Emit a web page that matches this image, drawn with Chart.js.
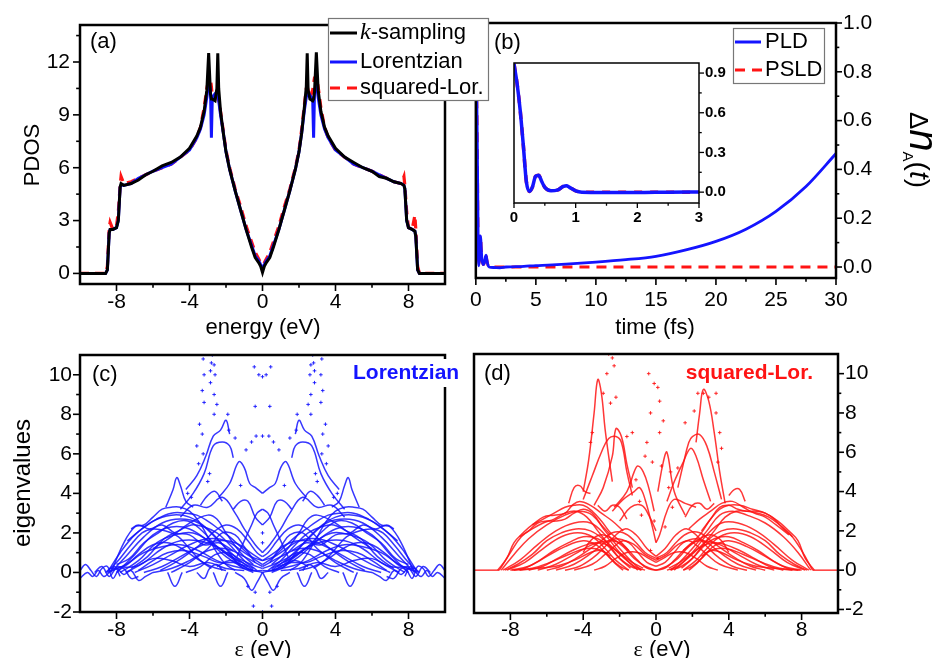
<!DOCTYPE html>
<html>
<head>
<meta charset="utf-8">
<script src="https://cdn.jsdelivr.net/npm/chart.js@4.4.1/dist/chart.umd.min.js"></script>
<style>
html, body { margin: 0; padding: 0; background: #fff; }
#wrap { position: relative; width: 935px; height: 658px; overflow: hidden; background: #fff; }
.panel { position: absolute; }
</style>
</head>
<body>
<div id="wrap">
  <div class="panel" style="left:460px;top:0;z-index:1"><canvas id="chartB" width="475" height="345"></canvas></div>
  <div class="panel" style="left:500px;top:48px;z-index:2"><canvas id="chartInset" width="240" height="185"></canvas></div>
  <div class="panel" style="left:0;top:0;z-index:3"><canvas id="chartA" width="500" height="345"></canvas></div>
  <div class="panel" style="left:0;top:330px;z-index:1"><canvas id="chartC" width="470" height="328"></canvas></div>
  <div class="panel" style="left:460px;top:330px;z-index:1"><canvas id="chartD" width="475" height="328"></canvas></div>
</div>
<script>
// ---- (a) PDOS ----
const energy = [-10, -9, -8.6, -8.5, -8.4, -8.35, -8.2, -8.0, -7.9, -7.8, -7.75, -7.6, -7.2, -6.8, -6.4, -6.0, -5.5, -5.0, -4.5, -4.0,
  -3.6, -3.4, -3.2, -3.05, -2.95, -2.85, -2.8, -2.75, -2.6, -2.5, -2.45, -2.4, -2.3, -2.15, -2.0, -1.8, -1.5, -1.2, -0.9, -0.6,
  -0.4, -0.2, -0.1, 0,
  0.1, 0.2, 0.4, 0.6, 0.9, 1.2, 1.5, 1.8, 2.0, 2.15, 2.3, 2.4, 2.45, 2.5, 2.6, 2.75, 2.8, 2.85, 2.95, 3.05,
  3.2, 3.4, 3.6, 4.0, 4.5, 5.0, 5.5, 6.0, 6.4, 6.8, 7.2, 7.6, 7.75, 7.8, 7.9, 8.0, 8.2, 8.35, 8.4, 8.5, 8.6, 9, 10];
const kSampling = [0, 0, 0, 0.2, 2.3, 2.5, 2.5, 2.6, 3.0, 4.9, 5.1, 5.0, 5.1, 5.3, 5.6, 5.8, 6.1, 6.3, 6.6, 7.1,
  7.8, 8.3, 9.2, 10.4, 12.5, 10.2, 9.9, 9.9, 9.8, 10.5, 12.5, 10.5, 9.2, 8.0, 6.9, 5.9, 4.7, 3.6, 2.5, 1.5,
  0.9, 0.6, 0.4, 0.05,
  0.4, 0.6, 0.9, 1.5, 2.5, 3.6, 4.7, 5.9, 6.9, 8.0, 9.5, 10.6, 12.5, 10.4, 9.9, 9.8, 9.9, 10.3, 12.55, 10.4,
  9.2, 8.3, 7.8, 7.1, 6.6, 6.3, 6.0, 5.8, 5.5, 5.4, 5.2, 5.1, 5.0, 4.8, 3.0, 2.6, 2.5, 2.4, 2.1, 0.2, 0, 0, 0];
const lorentzian = [0, 0, 0, 0.2, 2.3, 2.5, 2.5, 2.6, 3.0, 4.9, 5.0, 5.0, 5.1, 5.4, 5.6, 5.8, 6.0, 6.2, 6.6, 7.0,
  7.7, 8.2, 9.0, 10.0, 10.8, 10.4, 7.7, 10.0, 10.2, 10.3, 10.2, 9.8, 9.0, 8.0, 6.9, 5.9, 4.7, 3.6, 2.5, 1.6,
  1.0, 0.7, 0.5, 0.3,
  0.5, 0.7, 1.0, 1.6, 2.5, 3.6, 4.7, 5.9, 6.9, 8.0, 9.3, 10.0, 10.2, 10.3, 10.1, 9.9, 7.7, 10.3, 10.8, 10.0,
  9.0, 8.2, 7.7, 7.0, 6.6, 6.2, 6.0, 5.8, 5.6, 5.4, 5.2, 5.1, 5.0, 4.8, 3.0, 2.6, 2.5, 2.4, 2.1, 0.2, 0, 0, 0];
const squaredLor = [0, 0, 0, 0.4, 2.6, 2.9, 2.5, 2.7, 3.5, 5.0, 5.5, 5.1, 5.2, 5.4, 5.6, 5.8, 6.0, 6.2, 6.6, 7.0,
  7.7, 8.3, 9.4, 10.5, 11.0, 11.0, 10.6, 10.0, 9.9, 10.4, 10.3, 9.9, 9.2, 8.1, 7.0, 6.0, 4.8, 3.8, 2.7, 1.8,
  1.2, 0.8, 0.6, 0.5,
  0.6, 0.8, 1.2, 1.8, 2.7, 3.8, 4.8, 6.0, 7.0, 8.2, 9.6, 10.5, 10.6, 10.4, 10.0, 10.4, 10.8, 11.1, 11.2, 10.6,
  9.4, 8.3, 7.7, 7.0, 6.6, 6.2, 6.0, 5.8, 5.6, 5.4, 5.2, 5.1, 5.5, 5.0, 3.5, 2.6, 2.5, 3.3, 2.5, 0.4, 0, 0, 0];

// ---- (b) population difference vs time ----
const time = [0, 0.05, 0.1, 0.15, 0.2, 0.25, 0.3, 0.35, 0.4, 0.45, 0.5, 0.6, 0.7, 0.8, 0.85, 0.9, 1.0, 1.1,
  1.5, 2, 2.5, 3, 4, 5, 6, 7.5, 10, 12.5, 15, 17.5, 20, 22.5, 25, 27.5, 30];
const pld = [0.97, 0.82, 0.62, 0.36, 0.08, 0.005, 0.04, 0.12, 0.128, 0.08, 0.036, 0.01, 0.015, 0.043, 0.049, 0.036, 0.01, 0.0,
  -0.002, -0.003, 0.0, 0.001, 0.003, 0.006, 0.008, 0.012, 0.02, 0.03, 0.044, 0.07, 0.105, 0.155, 0.228, 0.33, 0.465];
const psld = [0.97, 0.82, 0.62, 0.36, 0.08, 0.005, 0.04, 0.12, 0.128, 0.08, 0.036, 0.01, 0.015, 0.043, 0.049, 0.036, 0.01, 0,
  0, 0, 0, 0, 0, 0, 0, 0, 0, 0, 0, 0, 0, 0, 0, 0, 0];

// ---- (c) Lorentzian eigenvalue branches, [eps, value] ----
const lorArcs = [
  [[-8.3,0],[-7.6,1.5],[-7,2.3],[-6.5,2.4],[-6,2.8],[-5.5,3.2],[-5,3.3],[-4.5,3.3],[-4,3.1],[-3.5,2.6],[-3,1.8],[-2.5,1.0],[-2,0.4],[-1.5,0.1]],
  [[-8.5,0],[-7.8,1.0],[-7,1.9],[-6,2.6],[-5,2.9],[-4,2.8],[-3,2.2],[-2,1.2],[-1.2,0.3],[-0.5,0]],
  [[-8.2,0.1],[-7.5,0.8],[-6.5,1.8],[-5.5,2.5],[-4.5,2.7],[-3.5,2.5],[-2.5,1.7],[-1.5,0.8],[-0.5,0.1]],
  [[-8,0],[-7,0.9],[-6,1.9],[-5,2.3],[-4,2.2],[-3,1.6],[-2,0.8],[-1,0.2]],
  [[-7.8,0],[-6.8,0.6],[-5.8,1.5],[-4.8,1.9],[-3.8,2.0],[-2.8,1.5],[-1.8,0.8],[-0.8,0.2],[0,0]],
  [[-7.5,0],[-6.5,0.5],[-5.5,1.2],[-4.5,1.6],[-3.5,1.6],[-2.5,1.3],[-1.5,0.7],[-0.5,0.2]],
  [[-8.5,0],[-7.5,0.4],[-6.5,1.0],[-5.5,1.3],[-4.5,1.4],[-3.5,1.1],[-2.5,0.6],[-1.5,0.3],[-0.5,0.1]],
  [[-7,0],[-6,0.4],[-5,0.9],[-4,1.4],[-3,1.7],[-2,1.6],[-1,1.0],[0,0.4]],
  [[-6.5,0],[-5.5,0.3],[-4.5,0.8],[-3.5,1.3],[-2.5,1.6],[-1.5,1.5],[-0.5,0.9],[0,0.6]],
  [[-6,0],[-5,0.2],[-4,0.6],[-3,1.1],[-2,1.2],[-1,0.8],[0,0.3]],
  [[-8,0.3],[-7,0.3],[-6,0.7],[-5,0.6],[-4,0.3],[-3,0.5],[-2,0.2],[-1,0.1]],
  [[-5,0],[-4,0.5],[-3,1.2],[-2.2,2.0],[-1.5,1.9],[-1,1.3],[-0.4,0.5]],
  [[-4.5,2.8],[-3.8,3.4],[-3,3.3],[-2.2,3.8],[-1.5,3.0],[-1,2.2],[-0.4,1.4],[0,1.0]],
  [[-6,1.2],[-5,1.8],[-4,2.5],[-3,2.9],[-2.5,2.7],[-2,2.0],[-1.2,1.0],[-0.5,0.4]],
  [[-7.2,2.2],[-6.8,2.4],[-6.2,2.2],[-5.5,2.4],[-4.8,2.0],[-4,1.9],[-3.2,1.4],[-2.4,1.5],[-1.6,1.1]],
  [[-8.6,0],[-8,0.5],[-7.3,1.3],[-6.6,2.0],[-6,2.2],[-5.3,2.1],[-4.6,1.8],[-4,1.2],[-3.4,0.6],[-2.8,0.2]],
  [[-8.4,0.2],[-7.6,0.3],[-6.8,0.9],[-6,1.4],[-5.2,1.5],[-4.4,1.2],[-3.6,0.7],[-2.8,0.3],[-2,0.1]],
  [[-7.2,0.2],[-6.3,0.8],[-5.4,1.7],[-4.6,2.1],[-3.9,2.4],[-3.2,2.3],[-2.5,2.0],[-1.8,1.4],[-1,0.6],[-0.3,0.1]],
  [[-6.8,0.1],[-6,0.6],[-5.2,1.0],[-4.2,1.1],[-3.2,0.8],[-2.4,0.5],[-1.6,0.5],[-0.8,0.3]],
  [[-7.4,1.6],[-6.6,2.2],[-5.8,2.7],[-5,3.0],[-4.2,3.0],[-3.6,2.9],[-3,2.6],[-2.4,2.2],[-1.8,1.8],[-1.2,1.3],[-0.6,0.8],[0,0.6]],
  [[-5.6,0.1],[-4.8,0.5],[-4,1.0],[-3.3,1.5],[-2.6,2.1],[-2,2.4],[-1.4,2.2],[-0.8,1.6],[-0.3,1.0],[0,0.8]],
  [[-4.2,0],[-3.4,0.3],[-2.6,0.9],[-1.9,1.0],[-1.3,0.7],[-0.6,0.4],[0,0.2]],
  [[-8,0.4],[-7.3,0.7],[-6.5,1.5],[-5.7,2.0],[-4.9,2.5],[-4.1,2.6],[-3.3,2.1],[-2.6,1.4],[-1.9,0.9],[-1.2,0.5]],
  [[-9.2,0],[-8.8,0.3],[-8.4,-0.2],[-8,0.2],[-7.6,-0.1],[-7.2,0.1],[-6.8,-0.4],[-6.4,-0.2],[-6,0]],
  [[-3.6,0],[-3.2,-0.3],[-2.9,0.2],[-2.5,0.4],[-2.2,0.1]],
  [[-2.5,0.3],[-1.8,0.6],[-1.2,0.4],[-0.6,0.1],[0,0.1]],
  [[-1.4,0.8],[-1,1.6],[-0.6,2.4],[-0.3,3.0],[0,3.2]],
  [[-3.4,3.4],[-3.0,3.9],[-2.6,4.1],[-2.2,3.6]],
  [[-5.3,3.3],[-4.9,4.2],[-4.7,4.8],[-4.5,4.4],[-4.2,3.6],[-3.8,3.3]],
  [[-4.5,3.2],[-3.8,4.0],[-3.2,5.0],[-2.7,6.4],[-2.2,6.6],[-1.8,6.4],[-1.6,5.8]],
  [[-4.2,4.2],[-3.6,4.9],[-3.1,5.9],[-2.7,6.9],[-2.3,7.2],[-2.0,7.7],[-1.8,7.0]],
  [[-2.4,3.8],[-1.8,4.5],[-1.3,5.6],[-1,5.3],[-0.7,4.5],[-0.4,4.3],[0,4.0]],
  [[-1.6,3.2],[-1.2,3.6],[-0.8,3.6],[-0.4,2.8],[0,2.4]],
  [[-5.2,0],[-4.8,-0.7],[-4.4,0]],
  [[-2.7,0],[-2.3,-0.7],[-1.9,0]],
  [[-1.5,0],[-1,-0.3],[-0.6,-0.9],[-0.3,-0.5],[0,0]],
  [[-10,0.1],[-9.7,0.4],[-9.4,0.1],[-9.1,-0.2],[-8.8,0.2],[-8.5,0.3],[-8.2,-0.3],[-7.9,0.1],[-7.6,0.2],[-7.2,-0.3],[-6.8,-0.2]],
  [[-10,-0.3],[-9.6,0],[-9.3,-0.2],[-9,0.1],[-8.7,-0.2],[-8.4,0],[-8.1,0.3],[-7.8,-0.2]],
  [[8.3,0],[7.6,1.5],[7,2.3],[6.5,2.4],[6,2.8],[5.5,3.2],[5,3.3],[4.5,3.3],[4,3.1],[3.5,2.6],[3,1.8],[2.5,1.0],[2,0.4],[1.5,0.1]],
  [[8.5,0],[7.8,1.0],[7,1.9],[6,2.6],[5,2.9],[4,2.8],[3,2.2],[2,1.2],[1.2,0.3],[0.5,0]],
  [[8.2,0.1],[7.5,0.8],[6.5,1.8],[5.5,2.5],[4.5,2.7],[3.5,2.5],[2.5,1.7],[1.5,0.8],[0.5,0.1]],
  [[8,0],[7,0.9],[6,1.9],[5,2.3],[4,2.2],[3,1.6],[2,0.8],[1,0.2]],
  [[7.8,0],[6.8,0.6],[5.8,1.5],[4.8,1.9],[3.8,2.0],[2.8,1.5],[1.8,0.8],[0.8,0.2],[0,0]],
  [[7.5,0],[6.5,0.5],[5.5,1.2],[4.5,1.6],[3.5,1.6],[2.5,1.3],[1.5,0.7],[0.5,0.2]],
  [[8.5,0],[7.5,0.4],[6.5,1.0],[5.5,1.3],[4.5,1.4],[3.5,1.1],[2.5,0.6],[1.5,0.3],[0.5,0.1]],
  [[7,0],[6,0.4],[5,0.9],[4,1.4],[3,1.7],[2,1.6],[1,1.0],[0,0.4]],
  [[6.5,0],[5.5,0.3],[4.5,0.8],[3.5,1.3],[2.5,1.6],[1.5,1.5],[0.5,0.9],[0,0.6]],
  [[6,0],[5,0.2],[4,0.6],[3,1.1],[2,1.2],[1,0.8],[0,0.3]],
  [[8,0.3],[7,0.3],[6,0.7],[5,0.6],[4,0.3],[3,0.5],[2,0.2],[1,0.1]],
  [[5,0],[4,0.5],[3,1.2],[2.2,2.0],[1.5,1.9],[1,1.3],[0.4,0.5]],
  [[4.5,2.8],[3.8,3.4],[3,3.3],[2.2,3.8],[1.5,3.0],[1,2.2],[0.4,1.4],[0,1.0]],
  [[6,1.2],[5,1.8],[4,2.5],[3,2.9],[2.5,2.7],[2,2.0],[1.2,1.0],[0.5,0.4]],
  [[7.2,2.2],[6.8,2.4],[6.2,2.2],[5.5,2.4],[4.8,2.0],[4,1.9],[3.2,1.4],[2.4,1.5],[1.6,1.1]],
  [[8.6,0],[8,0.5],[7.3,1.3],[6.6,2.0],[6,2.2],[5.3,2.1],[4.6,1.8],[4,1.2],[3.4,0.6],[2.8,0.2]],
  [[8.4,0.2],[7.6,0.3],[6.8,0.9],[6,1.4],[5.2,1.5],[4.4,1.2],[3.6,0.7],[2.8,0.3],[2,0.1]],
  [[7.2,0.2],[6.3,0.8],[5.4,1.7],[4.6,2.1],[3.9,2.4],[3.2,2.3],[2.5,2.0],[1.8,1.4],[1,0.6],[0.3,0.1]],
  [[6.8,0.1],[6,0.6],[5.2,1.0],[4.2,1.1],[3.2,0.8],[2.4,0.5],[1.6,0.5],[0.8,0.3]],
  [[7.4,1.6],[6.6,2.2],[5.8,2.7],[5,3.0],[4.2,3.0],[3.6,2.9],[3,2.6],[2.4,2.2],[1.8,1.8],[1.2,1.3],[0.6,0.8],[0,0.6]],
  [[5.6,0.1],[4.8,0.5],[4,1.0],[3.3,1.5],[2.6,2.1],[2,2.4],[1.4,2.2],[0.8,1.6],[0.3,1.0],[0,0.8]],
  [[4.2,0],[3.4,0.3],[2.6,0.9],[1.9,1.0],[1.3,0.7],[0.6,0.4],[0,0.2]],
  [[8,0.4],[7.3,0.7],[6.5,1.5],[5.7,2.0],[4.9,2.5],[4.1,2.6],[3.3,2.1],[2.6,1.4],[1.9,0.9],[1.2,0.5]],
  [[9.2,0],[8.8,0.3],[8.4,-0.2],[8,0.2],[7.6,-0.1],[7.2,0.1],[6.8,-0.4],[6.4,-0.2],[6,0]],
  [[3.6,0],[3.2,-0.3],[2.9,0.2],[2.5,0.4],[2.2,0.1]],
  [[2.5,0.3],[1.8,0.6],[1.2,0.4],[0.6,0.1],[0,0.1]],
  [[1.4,0.8],[1,1.6],[0.6,2.4],[0.3,3.0],[0,3.2]],
  [[3.4,3.4],[3.0,3.9],[2.6,4.1],[2.2,3.6]],
  [[5.3,3.3],[4.9,4.2],[4.7,4.8],[4.5,4.4],[4.2,3.6],[3.8,3.3]],
  [[4.5,3.2],[3.8,4.0],[3.2,5.0],[2.7,6.4],[2.2,6.6],[1.8,6.4],[1.6,5.8]],
  [[4.2,4.2],[3.6,4.9],[3.1,5.9],[2.7,6.9],[2.3,7.2],[2.0,7.7],[1.8,7.0]],
  [[2.4,3.8],[1.8,4.5],[1.3,5.6],[1,5.3],[0.7,4.5],[0.4,4.3],[0,4.0]],
  [[1.6,3.2],[1.2,3.6],[0.8,3.6],[0.4,2.8],[0,2.4]],
  [[5.2,0],[4.8,-0.7],[4.4,0]],
  [[2.7,0],[2.3,-0.7],[1.9,0]],
  [[1.5,0],[1,-0.3],[0.6,-0.9],[0.3,-0.5],[0,0]],
  [[10,0.1],[9.7,0.4],[9.4,0.1],[9.1,-0.2],[8.8,0.2],[8.5,0.3],[8.2,-0.3],[7.9,0.1],[7.6,0.2],[7.2,-0.3],[6.8,-0.2]],
  [[10,-0.3],[9.6,0],[9.3,-0.2],[9,0.1],[8.7,-0.2],[8.4,0],[8.1,0.3],[7.8,-0.2]]
];
const lorDots = [
  [-3.25,6.0],[-3.3,7.0],[-3.2,8.6],[-3.3,9.2],[-3.2,10.0],[-3.25,10.8],[-2.85,9.6],[-2.85,10.2],[-2.8,10.6],[-2.75,11.0],
  [-2.65,9.0],[-2.65,8.0],[-2.6,10.0],[-2.65,10.5],[-2.5,8.5],[-3.5,5.5],[-3.6,6.4],[-3.45,7.5],[-1.9,8.0],[-1.85,7.2],
  [-1.5,6.8],[-3.0,4.6],[-2.9,5.0],[-4.1,4.0],[-3.9,3.8],[-1.2,4.4],[-0.9,6.2],[-0.6,6.6],[-0.4,8.4],[-0.45,10.4],
  [-0.35,6.9],[-0.2,10.0],[-0.5,-1.7],[-0.4,-1.0],[-0.8,-0.7],[0,-2.0],[0,9.9],[0,6.9],[0,2.0],[0,1.5],
  [3.25,6.0],[3.3,7.0],[3.2,8.6],[3.3,9.2],[3.2,10.0],[3.25,10.8],[2.85,9.6],[2.85,10.2],[2.8,10.6],[2.75,11.0],
  [2.65,9.0],[2.65,8.0],[2.6,10.0],[2.65,10.5],[2.5,8.5],[3.5,5.5],[3.6,6.4],[3.45,7.5],[1.9,8.0],[1.85,7.2],
  [1.5,6.8],[3.0,4.6],[2.9,5.0],[4.1,4.0],[3.9,3.8],[1.2,4.4],[0.9,6.2],[0.6,6.6],[0.4,8.4],[0.45,10.4],
  [0.35,6.9],[0.2,10.0],[0.5,-1.7],[0.4,-1.0],[0.8,-0.7]
];

// ---- (d) squared-Lorentzian eigenvalue branches ----
const sqArcs = [
  [[-10,0],[-8.6,0]],
  [[8.6,0],[10,0]],
  [[-8.7,0],[-8.2,0.6],[-7.8,1.4],[-7.3,1.9],[-6.8,2.3],[-6.2,2.6],[-5.6,2.9],[-5,3.2],[-4.5,3.3],[-4,3.3],[-3.5,3.0],[-3,2.5],[-2.5,1.9],[-2,1.5],[-1.5,1.0]],
  [[-8.5,0],[-7.8,0.8],[-7,1.6],[-6,2.3],[-5,2.8],[-4.2,3.0],[-3.5,2.8],[-2.8,2.0],[-2,1.1],[-1.3,0.4],[-0.8,0]],
  [[-8.4,0],[-7.5,0.5],[-6.5,1.3],[-5.5,2.0],[-4.5,2.4],[-3.6,2.4],[-2.8,1.8],[-2,0.9],[-1.2,0.2],[-0.6,0]],
  [[-8.2,0],[-7.2,0.4],[-6.2,1.1],[-5.2,1.7],[-4.3,1.9],[-3.5,1.7],[-2.8,1.1],[-2.2,0.5],[-1.5,0]],
  [[-8,0],[-7,0.2],[-6,0.7],[-5,1.2],[-4,1.5],[-3.3,1.3],[-2.7,0.8],[-2.2,0.3],[-1.8,0]],
  [[-7.8,0],[-6.8,0.1],[-5.8,0.4],[-4.8,0.8],[-3.8,1.1],[-3.0,1.0],[-2.5,0.6],[-2,0.2],[-1.5,0]],
  [[-7.5,0],[-6.5,0.1],[-5.5,0.2],[-4.5,0.5],[-3.6,0.9],[-3,1.0],[-2.5,0.7]],
  [[-6.5,0],[-5.5,0.3],[-4.5,0.8],[-3.5,1.3],[-2.5,1.5],[-2,1.4],[-1.5,1.0],[-1,0.5],[-0.5,0.1],[0,0]],
  [[-5.5,0],[-4.5,0.3],[-3.5,0.9],[-2.8,1.4],[-2.2,1.6],[-1.5,1.4],[-1,0.9],[-0.5,0.4],[0,0.2]],
  [[-4.5,0],[-3.5,0.3],[-2.8,0.8],[-2.3,1.2],[-1.8,1.5],[-1.2,1.3],[-0.6,0.8],[0,0.5]],
  [[-4,0.9],[-3.6,1.5],[-3,1.8],[-2.4,1.6],[-1.8,1.2],[-1.2,0.6],[-0.6,0.2],[0,0]],
  [[-7.5,1.7],[-7,2.0],[-6.5,2.4],[-6,2.5],[-5.5,2.5],[-5,2.6],[-4.5,2.9],[-4,3.1],[-3.5,2.9],[-3,2.3],[-2.5,1.8]],
  [[-8.6,0],[-8,0.9],[-7.4,1.7],[-6.8,2.1],[-6.2,2.4],[-5.6,2.6],[-5,2.9],[-4.4,3.0],[-3.8,2.7],[-3.2,2.0],[-2.6,1.3],[-2,0.6],[-1.4,0.1]],
  [[-8.3,0],[-7.6,0.3],[-6.8,0.8],[-6,1.5],[-5.2,1.9],[-4.4,2.1],[-3.6,2.0],[-2.8,1.5],[-2.1,0.9],[-1.5,0.4],[-1,0]],
  [[-7.9,0],[-7.2,0.1],[-6.4,0.5],[-5.6,1.0],[-4.8,1.4],[-4,1.7],[-3.2,1.6],[-2.6,1.2],[-2,0.6],[-1.4,0.2],[-0.8,0]],
  [[-7,0],[-6.2,0.2],[-5.4,0.6],[-4.6,1.0],[-3.8,1.3],[-3.1,1.4],[-2.5,1.2],[-1.9,0.8],[-1.3,0.4],[-0.7,0.1]],
  [[-6,0],[-5.2,0.2],[-4.4,0.6],[-3.6,1.1],[-3.0,1.5],[-2.4,1.9],[-1.8,1.9],[-1.2,1.5],[-0.6,0.9],[0,0.6]],
  [[-5,0],[-4.2,0.2],[-3.5,0.6],[-2.9,1.1],[-2.3,1.7],[-1.7,2.1],[-1.1,1.8],[-0.5,1.1],[0,0.7]],
  [[-3.4,0],[-2.8,0.2],[-2.2,0.6],[-1.6,0.9],[-1,0.9],[-0.4,0.6],[0,0.4]],
  [[-6.8,2.3],[-6.2,2.7],[-5.6,2.8],[-5,2.9],[-4.6,3.3],[-4.2,3.5],[-3.6,3.3],[-3,2.9],[-2.4,2.5],[-1.8,2.0]],
  [[-3.2,3.3],[-2.8,3.0],[-2.4,3.3],[-2.0,3.2],[-1.6,2.6]],
  [[-4.8,3.4],[-4.5,4.2],[-4.2,4.3],[-3.9,4.0],[-3.6,3.9]],
  [[-4.0,4.0],[-3.7,5.6],[-3.4,8.0],[-3.2,9.7],[-3.0,9.0],[-2.8,7.2],[-2.6,5.8],[-2.4,4.5]],
  [[-4.0,3.6],[-3.5,4.8],[-3.0,6.0],[-2.6,6.7],[-2.2,6.8],[-1.9,6.5],[-1.6,5.0],[-1.3,3.8]],
  [[-3.4,3.3],[-2.9,4.2],[-2.4,5.8],[-2.2,7.2],[-1.9,6.8],[-1.6,5.4],[-1.3,4.2]],
  [[-2.3,3.2],[-1.6,4.0],[-1.2,5.0],[-1.0,5.3],[-0.7,5.0],[-0.4,4.2],[-0.1,3.0]],
  [[-2.4,3.0],[-1.8,3.6],[-1.2,4.0],[-0.9,4.2],[-0.6,3.6],[-0.2,2.2],[0,1.4]],
  [[-2.0,2.5],[-1.4,3.2],[-0.8,3.3],[-0.4,2.8],[0,2.0]],
  [[8.7,0],[8.2,0.6],[7.8,1.5],[7.3,2.0],[6.7,2.5],[6,2.9],[5.3,3.1],[4.6,3.3],[4,3.3],[3.5,3.1],[3,2.6],[2.5,1.9],[2,1.4],[1.5,1.0]],
  [[8.5,0],[7.8,0.9],[7,1.7],[6,2.4],[5,2.8],[4.2,3.0],[3.5,2.8],[2.8,2.0],[2,1.1],[1.3,0.4],[0.8,0]],
  [[8.4,0],[7.5,0.5],[6.5,1.3],[5.5,2.0],[4.5,2.4],[3.6,2.4],[2.8,1.8],[2,0.9],[1.2,0.2],[0.6,0]],
  [[8.2,0],[7.2,0.4],[6.2,1.1],[5.2,1.7],[4.3,1.9],[3.5,1.7],[2.8,1.1],[2.2,0.5],[1.5,0]],
  [[8,0],[7,0.2],[6,0.7],[5,1.2],[4,1.5],[3.3,1.3],[2.7,0.8],[2.2,0.3],[1.8,0]],
  [[7.8,0],[6.8,0.1],[5.8,0.4],[4.8,0.8],[3.8,1.1],[3.0,1.0],[2.5,0.6],[2,0.2],[1.5,0]],
  [[7.5,0],[6.5,0.1],[5.5,0.2],[4.5,0.5],[3.6,0.9],[3,1.0],[2.5,0.7]],
  [[6.5,0],[5.5,0.3],[4.5,0.8],[3.5,1.3],[2.5,1.5],[2,1.4],[1.5,1.0],[1,0.5],[0.5,0.1],[0,0]],
  [[5.5,0],[4.5,0.3],[3.5,0.9],[2.8,1.4],[2.2,1.6],[1.5,1.4],[1,0.9],[0.5,0.4],[0,0.2]],
  [[4.5,0],[3.5,0.3],[2.8,0.8],[2.3,1.2],[1.8,1.5],[1.2,1.3],[0.6,0.8],[0,0.5]],
  [[4,0.9],[3.6,1.5],[3,1.8],[2.4,1.6],[1.8,1.2],[1.2,0.6],[0.6,0.2],[0,0]],
  [[7.5,1.7],[7,2.1],[6.5,2.6],[6,2.9],[5.5,3.0],[5,3.0],[4.5,3.1],[4,3.3],[3.5,3.2],[3,2.6],[2.5,2.0]],
  [[8.6,0],[8,1.0],[7.4,1.8],[6.8,2.3],[6.2,2.7],[5.6,2.9],[5,3.0],[4.4,3.0],[3.8,2.7],[3.2,2.0],[2.6,1.3],[2,0.6],[1.4,0.1]],
  [[8.3,0],[7.6,0.3],[6.8,0.8],[6,1.5],[5.2,1.9],[4.4,2.1],[3.6,2.0],[2.8,1.5],[2.1,0.9],[1.5,0.4],[1,0]],
  [[7.9,0],[7.2,0.1],[6.4,0.5],[5.6,1.0],[4.8,1.4],[4,1.7],[3.2,1.6],[2.6,1.2],[2,0.6],[1.4,0.2],[0.8,0]],
  [[7,0],[6.2,0.2],[5.4,0.6],[4.6,1.0],[3.8,1.3],[3.1,1.4],[2.5,1.2],[1.9,0.8],[1.3,0.4],[0.7,0.1]],
  [[6,0],[5.2,0.2],[4.4,0.6],[3.6,1.1],[3.0,1.5],[2.4,1.9],[1.8,1.9],[1.2,1.5],[0.6,0.9],[0,0.6]],
  [[5,0],[4.2,0.2],[3.5,0.6],[2.9,1.1],[2.3,1.7],[1.7,2.1],[1.1,1.8],[0.5,1.1],[0,0.7]],
  [[3.4,0],[2.8,0.2],[2.2,0.6],[1.6,0.9],[1,0.9],[0.4,0.6],[0,0.4]],
  [[7.3,1.8],[6.6,2.3],[6,2.7],[5.4,2.9],[4.8,3.2],[4.2,3.5],[3.6,3.4],[3,3.0],[2.4,2.6],[1.8,2.1]],
  [[3.2,3.4],[2.8,3.1],[2.4,3.4],[2.0,3.3],[1.6,2.7]],
  [[4.9,3.5],[4.6,4.1],[4.3,4.1],[4.0,3.8]],
  [[3.8,3.4],[3.5,5.0],[3.2,7.0],[2.9,8.6],[2.6,9.2],[2.4,8.0],[2.2,6.5]],
  [[3.6,3.6],[3.2,5.0],[2.8,6.3],[2.4,6.9],[2.0,6.8],[1.8,6.5],[1.5,5.4],[1.2,4.2]],
  [[3.0,3.5],[2.6,4.6],[2.2,5.8],[1.9,6.2],[1.5,5.5],[1.0,4.5],[0.6,3.5]],
  [[1.6,2.8],[1.0,4.0],[0.6,6.0],[0.4,5.5],[0.1,4.0]],
  [[2.2,3.2],[1.6,3.4],[1.0,3.6],[0.6,3.0],[0.2,1.8],[0,1.4]]
];
const sqDots = [
  [-2.6,11.0],[-2.4,10.8],[-2.3,10.4],[-2.7,10.0],[-2.9,9.0],[-3.6,6.5],[-3.5,7.0],[-2.5,8.5],[-2.2,8.8],[-0.4,10.0],
  [-0.1,9.5],[0.1,9.3],[0.2,8.6],[-0.3,8.0],[0.4,7.6],[0.2,7.0],[-0.5,6.5],[-0.2,5.5],[0.3,5.3],[-0.6,5.8],
  [-1.3,7.0],[-1.6,6.8],[0.7,4.2],[0.9,3.2],[-0.8,2.8],[-0.3,1.0],[0.1,0.6],[0.8,5.0],[2.3,9.0],[2.6,9.0],
  [2.9,8.8],[3.3,9.0],[3.3,8.0],[3.5,7.0],[3.6,6.2],[3.4,5.5],[2.1,8.1],[1.6,7.5],[1.2,5.2],[-1.1,4.6],
  [-0.9,3.5],[-0.1,2.5],[0.5,2.2]
];

// ---- tick positions ----
const ticksEnergy = [-8, -4, 0, 4, 8], minorEnergy = [-6, -2, 2, 6];
const ticksPdos = [0, 3, 6, 9, 12], minorPdos = [1.5, 4.5, 7.5, 10.5, 13.5];
const ticksTime = [0, 5, 10, 15, 20, 25, 30], minorTime = [2.5, 7.5, 12.5, 17.5, 22.5, 27.5];
const ticksDn = [0, 0.2, 0.4, 0.6, 0.8, 1.0], minorDn = [0.1, 0.3, 0.5, 0.7, 0.9];
const ticksInsetT = [0, 1, 2, 3], minorInsetT = [0.5, 1.5, 2.5];
const ticksInsetDn = [0, 0.3, 0.6, 0.9], minorInsetDn = [0.15, 0.45, 0.75];
const ticksEig = [-2, 0, 2, 4, 6, 8, 10], minorEig = [-1, 1, 3, 5, 7, 9];

const SANS = "'Liberation Sans', Arial, sans-serif";
const SERIF = "'Liberation Serif', 'Times New Roman', serif";
const BLUE = '#1414ff', RED = '#ff1414';

Chart.defaults.font.family = SANS;
Chart.defaults.color = '#000';

// draw text made of several runs with different fonts
function runs(ctx, x, y, parts, align) {
  let w = 0;
  for (const p of parts) { ctx.font = p[1]; w += ctx.measureText(p[0]).width; }
  let cx = align === 'center' ? x - w / 2 : align === 'right' ? x - w : x;
  ctx.textAlign = 'left';
  for (const p of parts) {
    ctx.font = p[1];
    ctx.fillText(p[0], cx, y + (p[2] || 0));
    cx += ctx.measureText(p[0]).width;
  }
}

const decorConf = {};
const decor = {
  id: 'decor',
  beforeDatasetsDraw(chart) {
    const c = decorConf[chart.canvas.id];
    if (!c || !c.fill) return;
    const {ctx, chartArea: a} = chart;
    ctx.save();
    ctx.fillStyle = '#fff';
    ctx.fillRect(a.left, a.top, a.right - a.left, a.bottom - a.top);
    ctx.restore();
  },
  afterDraw(chart) {
    const c = decorConf[chart.canvas.id];
    if (!c) return;
    const {ctx, chartArea: a, scales} = chart;
    ctx.save();
    ctx.strokeStyle = '#000';
    ctx.lineWidth = c.frame;
    ctx.strokeRect(a.left, a.top, a.right - a.left, a.bottom - a.top);
    ctx.lineWidth = c.tickWidth || 1.6;
    for (const t of c.ticks) {
      const s = scales[t.axis];
      const mark = (v, len) => {
        const p = s.getPixelForValue(v);
        ctx.beginPath();
        if (t.side === 'bottom') { ctx.moveTo(p, a.bottom); ctx.lineTo(p, a.bottom + len); }
        if (t.side === 'left') { ctx.moveTo(a.left, p); ctx.lineTo(a.left - len, p); }
        if (t.side === 'right') { ctx.moveTo(a.right, p); ctx.lineTo(a.right + len, p); }
        ctx.stroke();
      };
      t.major.forEach(v => mark(v, t.len));
      t.minor.forEach(v => mark(v, t.len * 0.55));
    }
    ctx.fillStyle = '#000';
    ctx.textBaseline = 'middle';
    if (c.draw) c.draw(ctx, a);
    ctx.restore();
  }
};

function axis(pos, min, max, major, size, pad, opts = {}) {
  return {
    type: 'linear', position: pos, min, max,
    grid: {display: false, drawTicks: false}, border: {display: false},
    afterBuildTicks: s => { s.ticks = major.map(v => ({value: v})); },
    afterFit: s => { if (pos === 'bottom') s.height = size; else s.width = size; },
    ticks: {
      padding: pad, color: '#000', autoSkip: false, maxRotation: 0,
      font: {size: opts.size || 21, weight: opts.bold ? 'bold' : 'normal'},
      callback: opts.fmt || (v => String(v))
    }
  };
}

function make(id, datasets, x, y, padding) {
  return new Chart(document.getElementById(id), {
    type: 'scatter',
    data: {datasets},
    options: {
      responsive: false, animation: false, events: [],
      layout: {padding},
      scales: {x, y},
      plugins: {legend: {display: false}, tooltip: {enabled: false}}
    },
    plugins: [decor]
  });
}

const xy = (xs, ys) => xs.map((x, i) => ({x, y: ys[i]}));
const line = (data, color, width, dash, extra = {}) => Object.assign({
  data, showLine: true, pointRadius: 0, borderColor: color, borderWidth: width,
  borderDash: dash || [], tension: 0, fill: false
}, extra);

// ---------- (a) ----------
decorConf.chartA = {
  frame: 2.5,
  ticks: [
    {axis: 'x', side: 'bottom', major: ticksEnergy, minor: minorEnergy, len: 7},
    {axis: 'y', side: 'left', major: ticksPdos, minor: minorPdos, len: 7}
  ],
  draw(ctx, a) {
    ctx.font = '22px ' + SANS; ctx.textAlign = 'left';
    ctx.fillText('(a)', 90, 42);
    ctx.textAlign = 'center';
    ctx.fillText('energy (eV)', 263, 328);
    ctx.save(); ctx.translate(33, 155); ctx.rotate(-Math.PI / 2);
    ctx.fillText('PDOS', 0, 0); ctx.restore();
    // legend
    ctx.fillStyle = '#fff'; ctx.fillRect(328, 18, 160, 82);
    ctx.strokeStyle = '#777'; ctx.lineWidth = 1.2; ctx.strokeRect(328.5, 18.5, 160, 82);
    const rows = [[33, '#000', []], [62, BLUE, []], [88, RED, [10, 7]]];
    ctx.lineWidth = 3;
    rows.forEach(r => {
      ctx.strokeStyle = r[1]; ctx.setLineDash(r[2]);
      ctx.beginPath(); ctx.moveTo(330, r[0]); ctx.lineTo(357, r[0]); ctx.stroke();
    });
    ctx.setLineDash([]);
    ctx.fillStyle = '#000';
    runs(ctx, 360, 33, [['k', 'italic 24px ' + SERIF], ['-sampling', '22px ' + SANS]], 'left');
    runs(ctx, 360, 62, [['Lorentzian', '22px ' + SANS]], 'left');
    runs(ctx, 360, 88, [['squared-Lor.', '22px ' + SANS]], 'left');
  }
};
make('chartA', [
  line(xy(energy, kSampling), '#000', 3),
  line(xy(energy, lorentzian), BLUE, 3),
  line(xy(energy, squaredLor), RED, 3.2, [9, 6])
], axis('bottom', -10, 10, ticksEnergy, 61, 6), axis('left', -0.6, 14.1, ticksPdos, 80, 10),
  {top: 25, left: 0, right: 55, bottom: 0});

// ---------- (b) ----------
decorConf.chartB = {
  frame: 2.5,
  ticks: [
    {axis: 'x', side: 'bottom', major: ticksTime, minor: minorTime, len: 7},
    {axis: 'y', side: 'right', major: ticksDn, minor: minorDn, len: 6}
  ],
  draw(ctx, a) {
    ctx.font = '22px ' + SANS; ctx.textAlign = 'left';
    ctx.fillText('(b)', 34, 43);
    ctx.textAlign = 'center';
    ctx.fillText('time (fs)', 195, 328);
    ctx.save(); ctx.translate(462, 150); ctx.rotate(Math.PI / 2);
    ctx.textBaseline = 'alphabetic';
    runs(ctx, 0, 12, [['Δ', '26px ' + SANS], ['n', 'italic 40px ' + SANS], ['A', '15px ' + SANS, 7],
      ['(', '28px ' + SANS], ['t', 'italic 28px ' + SANS], [')', '28px ' + SANS]], 'center');
    ctx.restore();
    // legend
    ctx.fillStyle = '#fff'; ctx.fillRect(273, 28, 91, 55);
    ctx.strokeStyle = '#777'; ctx.lineWidth = 1.2; ctx.strokeRect(273.5, 28.5, 91, 55);
    ctx.lineWidth = 3;
    ctx.strokeStyle = BLUE; ctx.beginPath(); ctx.moveTo(275, 42); ctx.lineTo(301, 42); ctx.stroke();
    ctx.strokeStyle = RED; ctx.setLineDash([10, 7]);
    ctx.beginPath(); ctx.moveTo(275, 70); ctx.lineTo(302, 70); ctx.stroke();
    ctx.setLineDash([]);
    ctx.fillStyle = '#000'; ctx.font = '22px ' + SANS; ctx.textAlign = 'left';
    ctx.fillText('PLD', 305, 42);
    ctx.fillText('PSLD', 305, 70);
  }
};
make('chartB', [
  line(xy(time, pld), BLUE, 2.8, [], {cubicInterpolationMode: 'monotone'}),
  line(xy(time, psld), RED, 2.8, [10, 7], {cubicInterpolationMode: 'monotone'})
], axis('bottom', 0, 30, ticksTime, 67, 10),
  axis('right', -0.045, 1.0, ticksDn, 99, 7, {fmt: v => v.toFixed(1)}),
  {top: 23, left: 14, right: 0, bottom: 0});

// ---------- inset ----------
decorConf.chartInset = {
  frame: 1.5, tickWidth: 1.3, fill: true,
  ticks: [
    {axis: 'x', side: 'bottom', major: ticksInsetT, minor: minorInsetT, len: 5},
    {axis: 'y', side: 'right', major: ticksInsetDn, minor: minorInsetDn, len: 5}
  ]
};
make('chartInset', [
  line(xy(time, pld), BLUE, 3.5, [], {cubicInterpolationMode: 'monotone'}),
  line(xy(time, psld), RED, 3.5, [8, 8], {cubicInterpolationMode: 'monotone'})
], axis('bottom', 0, 3, ticksInsetT, 30, 6, {size: 15, bold: true}),
  axis('right', -0.082, 0.976, ticksInsetDn, 41, 6, {size: 15, bold: true, fmt: v => v.toFixed(1)}),
  {top: 14, left: 14, right: 0, bottom: 0});

// ---------- (c) ----------
const arcSet = (arcs, color) => arcs.map(a => line(a, color, 1.5, [], {tension: 0.4}));
const dotSet = (dots, color) => ({data: dots, showLine: false, pointStyle: 'cross', pointRadius: 1.8,
  borderColor: color, borderWidth: 0.9});

decorConf.chartC = {
  frame: 2.5,
  ticks: [
    {axis: 'x', side: 'bottom', major: ticksEnergy, minor: minorEnergy, len: 7},
    {axis: 'y', side: 'left', major: ticksEig, minor: minorEig, len: 7}
  ],
  draw(ctx, a) {
    ctx.font = '22px ' + SANS; ctx.textAlign = 'left';
    ctx.fillText('(c)', 92, 45);
    runs(ctx, 263, 320, [['ε', '22px ' + SERIF], [' (eV)', '22px ' + SANS]], 'center');
    ctx.save(); ctx.translate(23, 153); ctx.rotate(-Math.PI / 2);
    ctx.font = '24px ' + SANS; ctx.textAlign = 'center';
    ctx.fillText('eigenvalues', 0, 0); ctx.restore();
    ctx.fillStyle = '#fff'; ctx.fillRect(350, 29, 115, 28);
    ctx.fillStyle = BLUE; ctx.font = 'bold 21px ' + SANS; ctx.textAlign = 'left';
    ctx.fillText('Lorentzian', 353, 43);
  }
};
make('chartC', arcSet(lorArcs, 'rgba(20,20,255,0.85)').concat([dotSet(lorDots, BLUE)]),
  axis('bottom', -10, 10, ticksEnergy, 46, 6), axis('left', -2, 11, ticksEig, 80, 8),
  {top: 25, left: 0, right: 25, bottom: 0});

// ---------- (d) ----------
decorConf.chartD = {
  frame: 2.5,
  ticks: [
    {axis: 'x', side: 'bottom', major: ticksEnergy, minor: minorEnergy, len: 7},
    {axis: 'y', side: 'right', major: ticksEig, minor: minorEig, len: 6}
  ],
  draw(ctx, a) {
    ctx.font = '22px ' + SANS; ctx.textAlign = 'left';
    ctx.fillText('(d)', 24, 44);
    runs(ctx, 202, 320, [['ε', '22px ' + SERIF], [' (eV)', '22px ' + SANS]], 'center');
    ctx.fillStyle = RED; ctx.font = 'bold 21px ' + SANS; ctx.textAlign = 'right';
    ctx.fillText('squared-Lor.', 353, 43);
  }
};
make('chartD', arcSet(sqArcs, 'rgba(255,20,20,0.85)').concat([dotSet(sqDots, RED)]),
  axis('bottom', -10, 10, ticksEnergy, 45, 5), axis('right', -2.18, 11, ticksEig, 97, 7),
  {top: 24, left: 14, right: 0, bottom: 0});
</script>
</body>
</html>
